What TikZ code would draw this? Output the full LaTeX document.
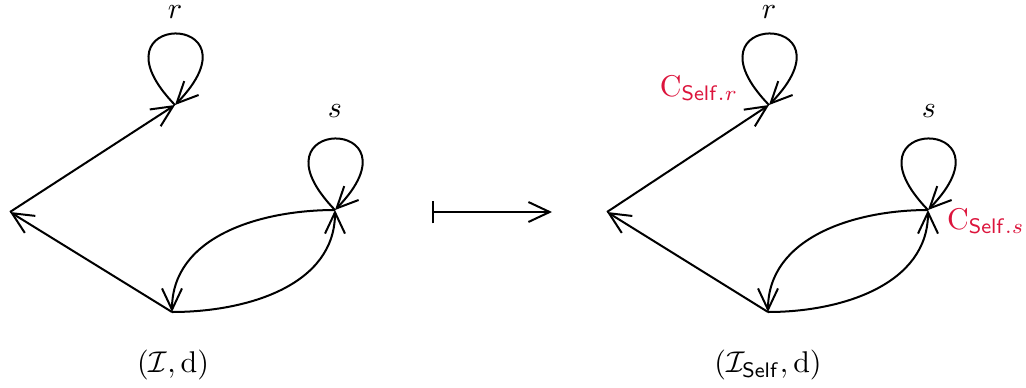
\documentclass[tikz,border=0pt]{standalone}
\usetikzlibrary{arrows.meta}
\definecolor{cred}{RGB}{220,20,60}
\begin{document}
\begin{tikzpicture}[x=0.4pt,y=-0.4pt,
  edge/.style={line width=0.8pt,-{Straight Barb[length=8.5pt,width=8pt]}},
  lbl/.style={inner sep=0pt,scale=1.2},
  redlbl/.style={inner sep=0pt,scale=1.2,text=cred}]
\useasboundingbox (0,0) rectangle (1026,387);
% left graph
\coordinate (a) at (10,212);
\coordinate (r) at (175,105);
\coordinate (s) at (335,210);
\coordinate (b) at (172,312);
\node[lbl] (rl) at (175,12) {$r$};
\node[lbl] (sl) at (335,111) {$s$};
\draw[edge] (a) -- (r);
\draw[edge] (b) -- (a);
\draw[edge] (r) .. controls +(-92,-95) and +(92,-95) .. (r);
\draw[edge] (s) .. controls +(-92,-95) and +(92,-95) .. (s);
\draw[edge] (s) to[out=180,in=90] (b);
\draw[edge] (b) to[out=0,in=-90] (s);
\node[lbl] (L1) at (173,365) {$(\mathcal{I},\mathrm{d})$};
% maps to
\coordinate (m1) at (432,212);
\coordinate (m2) at (552,212);
\draw[line width=0.8pt,{Bar[width=9pt]}-{Straight Barb[length=8.5pt,width=8pt]}] (m1) -- (m2);
% right graph
\coordinate (a2) at (607,212);
\coordinate (r2) at (769,105);
\coordinate (s2) at (928,210);
\coordinate (b2) at (768,312);
\node[lbl] (rl2) at (769,12) {$r$};
\node[lbl] (sl2) at (929,111) {$s$};
\draw[edge] (a2) -- (r2);
\draw[edge] (b2) -- (a2);
\draw[edge] (r2) .. controls +(-92,-95) and +(92,-95) .. (r2);
\draw[edge] (s2) .. controls +(-92,-95) and +(92,-95) .. (s2);
\draw[edge] (s2) to[out=180,in=90] (b2);
\draw[edge] (b2) to[out=0,in=-90] (s2);
\node[redlbl] (cr) at (699,88) {$\mathrm{C}_{\mathsf{Self}.r}$};
\node[redlbl] (cs) at (986,221) {$\mathrm{C}_{\mathsf{Self}.s}$};
\node[lbl] (L2) at (768,365) {$(\mathcal{I}_{\mathsf{Self}},\mathrm{d})$};
\end{tikzpicture}
\end{document}
